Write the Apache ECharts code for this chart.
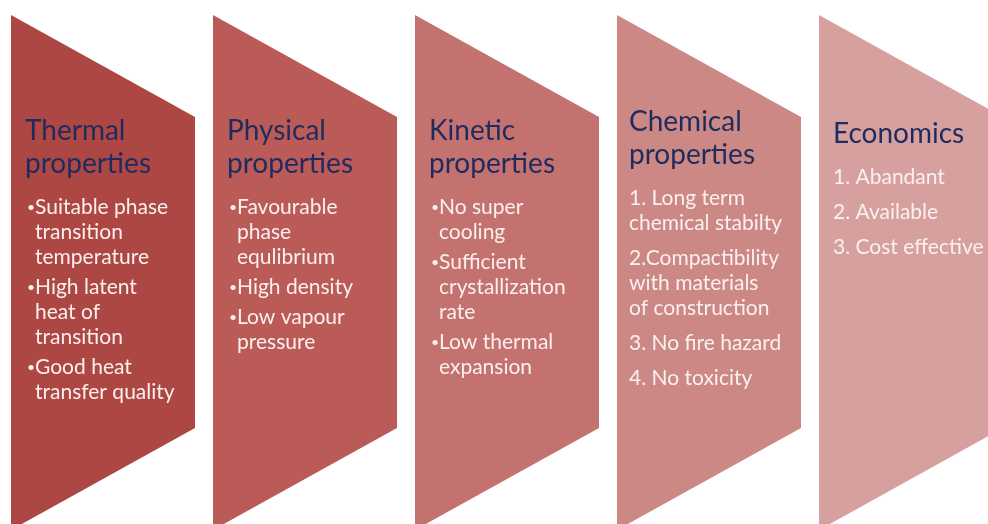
<!DOCTYPE html>
<html>
<head>
<meta charset="utf-8">
<title>PCM selection criteria</title>
<script src="https://cdn.jsdelivr.net/npm/echarts@6/dist/echarts.min.js"></script>
<style>
    html, body { margin: 0; padding: 0; background: #ffffff; }
    #main { width: 988px; height: 524px; }
</style>
</head>
<body>
<div id="main"></div>
<script>
// panel headings
var titles = [
    ['Thermal', 'properties'],
    ['Physical', 'properties'],
    ['Kinetic', 'properties'],
    ['Chemical', 'properties'],
    ['Economics']
];

// points listed in each panel (one array per point, one string per line)
var thermal = [['Suitable phase', 'transition', 'temperature'], ['High latent', 'heat of', 'transition'], ['Good heat', 'transfer quality']];
var physical = [['Favourable', 'phase', 'equlibrium'], ['High density'], ['Low vapour', 'pressure']];
var kinetic = [['No super', 'cooling'], ['Sufficient', 'crystallization', 'rate'], ['Low thermal', 'expansion']];
var chemical = [['1. Long term', 'chemical stabilty'], ['2.Compactibility', 'with materials', 'of construction'], ['3. No fire hazard'], ['4. No toxicity']];
var economics = [['1. Abandant'], ['2. Available'], ['3. Cost effective']];

var panels = [thermal, physical, kinetic, chemical, economics];
var bulleted = [true, true, true, false, false];

// look of the panels
var fills = ['#ad4744', '#bb5b57', '#c4726f', '#cc8885', '#d6a09f'];
var headTop = [131, 131, 131, 122, 134];
var bodyTop = [207, 207, 207, 198, 177];
var paraGap = [5, 5, 5, 10, 10];
var textLeft = [14, 14, 14, 12, 14];

var chartDom = document.getElementById('main');
var myChart = echarts.init(chartDom);

function renderPanel(params, api) {
    var i = api.value(0);
    var x0 = 11 + i * 202;
    var w = 184;
    // chevron outline in axis units
    var pts = [[x0, 15], [x0 + w, 117], [x0 + w, 428], [x0, 530]].map(function (p) {
        return api.coord(p);
    });
    var children = [{
        type: 'polygon',
        shape: { points: pts },
        style: { fill: fills[i] }
    }];

    var head = titles[i];
    for (var h = 0; h < head.length; h++) {
        var hp = api.coord([x0 + textLeft[i], headTop[i] + h * 33]);
        children.push({
            type: 'text',
            style: {
                text: head[h], x: hp[0], y: hp[1],
                fill: '#1f2b5e', font: '28px Lato',
                align: 'left', verticalAlign: 'middle'
            }
        });
    }

    var y = bodyTop[i];
    var items = panels[i];
    for (var k = 0; k < items.length; k++) {
        if (bulleted[i]) {
            var bp = api.coord([x0 + 16, y]);
            children.push({
                type: 'text',
                style: {
                    text: '\u2022', x: bp[0], y: bp[1],
                    fill: '#fbf0ef', font: '14px Lato',
                    align: 'left', verticalAlign: 'middle'
                }
            });
        }
        var indent = bulleted[i] ? 24 : textLeft[i];
        for (var l = 0; l < items[k].length; l++) {
            var tp = api.coord([x0 + indent, y]);
            children.push({
                type: 'text',
                style: {
                    text: items[k][l], x: tp[0], y: tp[1],
                    fill: '#fbf0ef', font: '21px Lato',
                    align: 'left', verticalAlign: 'middle'
                }
            });
            y += 25;
        }
        y += paraGap[i];
    }
    return { type: 'group', children: children };
}

var option = {
    animation: false,
    grid: { left: 0, right: 0, top: 0, bottom: 0 },
    xAxis: { type: 'value', min: 0, max: 988, show: false },
    yAxis: { type: 'value', min: 0, max: 524, inverse: true, show: false },
    series: [{
        type: 'custom',
        clip: false,
        renderItem: renderPanel,
        data: titles.map(function (t, i) { return [i]; })
    }]
};
option && myChart.setOption(option);
</script>
</body>
</html>
